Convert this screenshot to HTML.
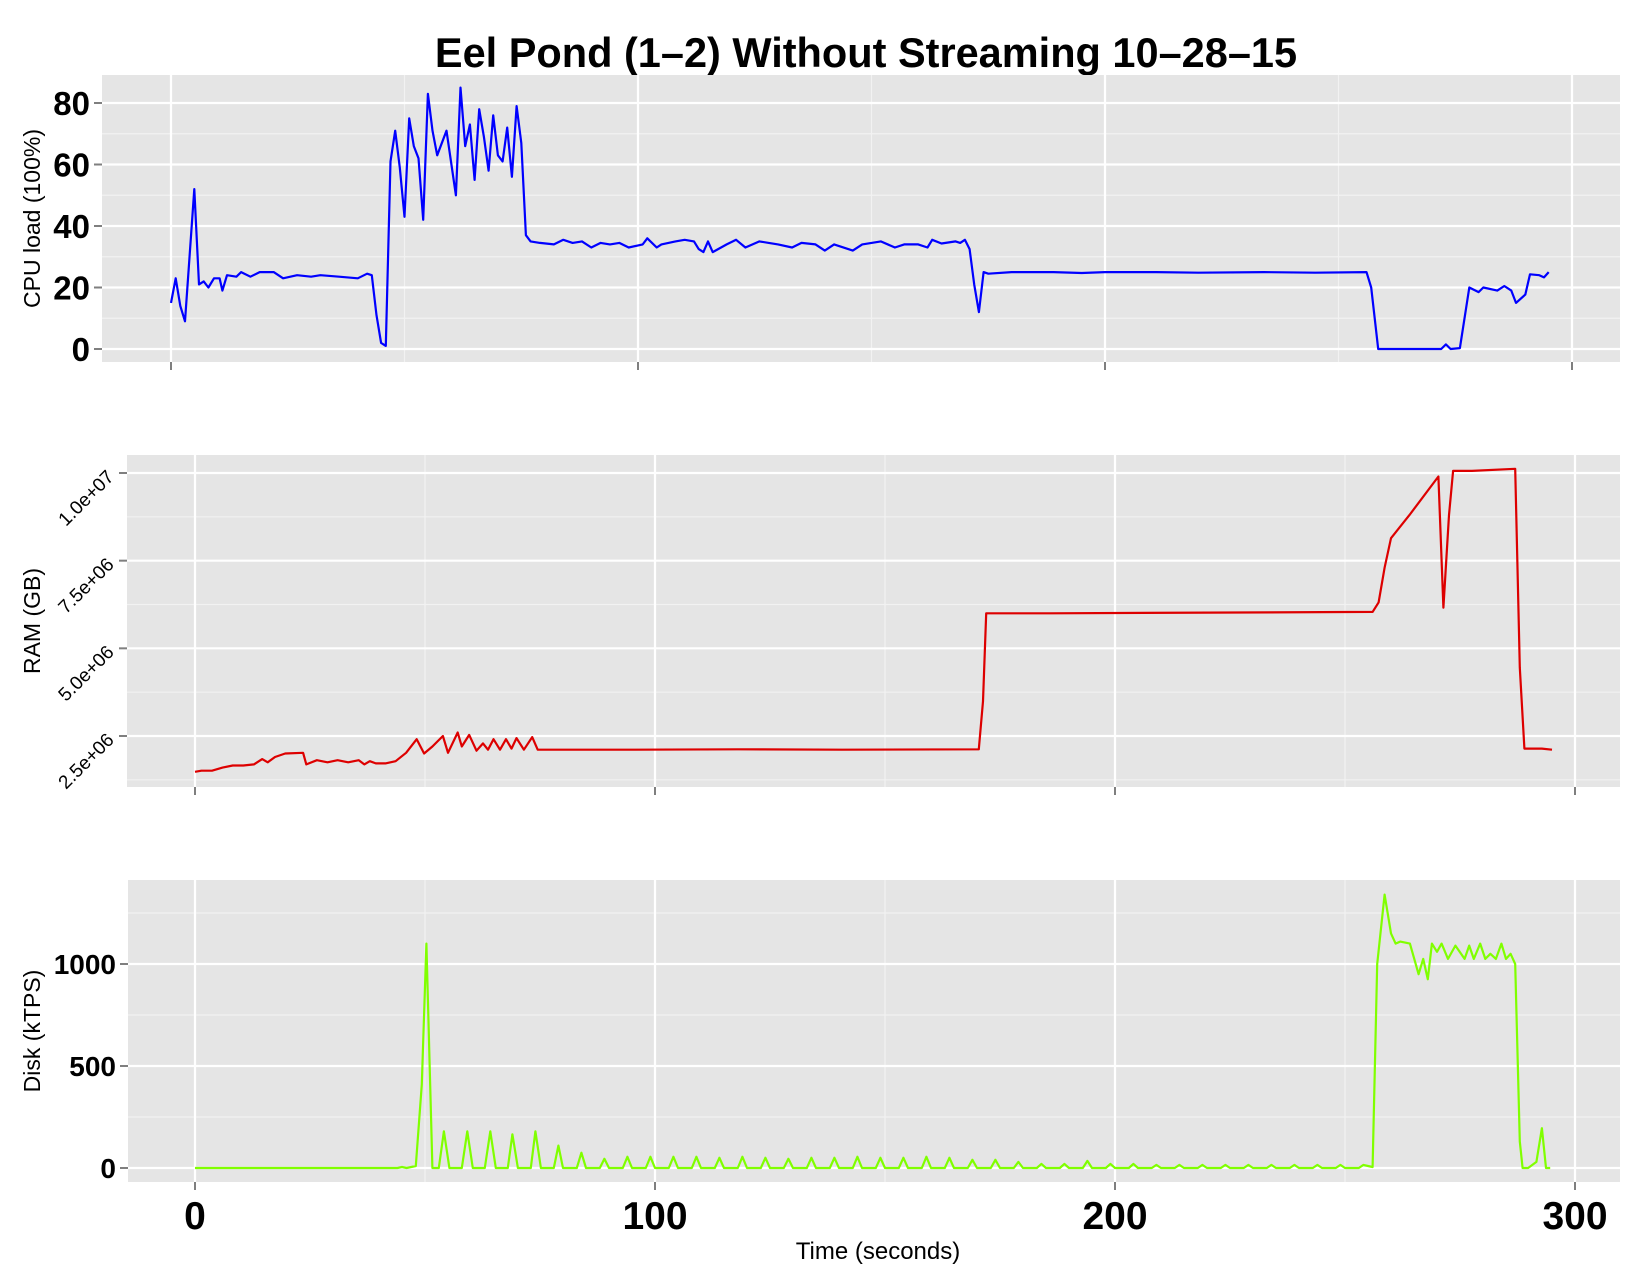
<!DOCTYPE html>
<html><head><meta charset="utf-8"><style>
html,body{margin:0;padding:0;background:#fff;width:1650px;height:1275px;overflow:hidden}
svg{display:block;font-family:"Liberation Sans",Arial,sans-serif}
</style></head><body>
<svg id="chart" width="1650" height="1275" viewBox="0 0 1650 1275" xmlns="http://www.w3.org/2000/svg">
<text x="866" y="67" text-anchor="middle" font-size="41.5" font-weight="bold">Eel Pond (1–2) Without Streaming 10–28–15</text>
<g id="layer"></g>
<text x="878" y="1259" text-anchor="middle" font-size="24">Time (seconds)</text>
</svg>
<script>
const xTicks=[0,100,200,300];
const cpuT=[0,1,2,3,5,6,7,8,9.2,10.4,11,12,14,15,17,19,22,24,27,30,32,36,40,42,43,44,45,46,47,48,49,50,51,52,53,54,55,56,57,59,61,62,63,64,65,66,67,68,69,70,71,72,73,74,75,76,77,79,82,84,86,88,90,92,94,96,98,101,102,104,105,108,110,112,113,114,115,116,119,121,123,126,128,130,133,135,138,140,142,146,148,152,155,157,160,162,163,165,168,169,170,171,172,173,174,175,180,189,195,200,211,220,234,245,256,257,258.5,272,273,274,276,278,280,281,284,285.5,287,288,290,291,293,294,295];
const cpuV=[15,23,14,9,52,21,22,20,23,23,19,24,23.5,25,23.5,25,25,23,24,23.5,24,23.5,23,24.5,24,11,2,1,61,71,59,43,75,66,62,42,83,71,63,71,50,85,66,73,55,78,69,58,76,63,61,72,56,79,67,37,35,34.5,34,35.5,34.5,35,33,34.5,34,34.5,33,34,36,33,34,35,35.5,35,32.5,31.5,35,31.5,34,35.5,33,35,34.5,34,33,34.5,34,32,34,32,34,35,33,34,34,33,35.5,34.3,35,34.5,35.5,32.5,21,12,25,24.5,25,25,24.7,25,25,24.8,25,24.8,25,20,0,0,1.5,0,0.3,20,18.5,20,19,20.5,19,15,17.7,24.3,24,23.3,25];
const cpuTicks=[0,20,40,60,80];
const ramT=[0,1.4,3.7,6,8.2,10.5,12.8,14.6,15.8,17.4,19.6,23.5,24.2,26.5,28.8,31,33.3,35.6,36.8,38,39.3,41.4,43.6,45.9,48.2,49.8,51.6,53.9,55,57.1,58,59.6,61.2,62.6,63.7,64.9,66.3,67.6,68.8,69.9,71.5,73.3,74.5,95,118,140.7,170.4,171.3,172,186,256,257.3,258.6,260,264,270.3,271.4,272.6,273.5,277.6,287,288,289,292.8,295];
const ramV=[1.48,1.51,1.51,1.6,1.66,1.66,1.69,1.84,1.75,1.9,2.0,2.02,1.69,1.81,1.75,1.81,1.75,1.81,1.69,1.78,1.72,1.72,1.78,2.02,2.41,2.0,2.2,2.5,2.02,2.6,2.2,2.53,2.08,2.29,2.11,2.41,2.11,2.41,2.14,2.44,2.11,2.47,2.11,2.11,2.12,2.11,2.12,3.49,6.0,6.0,6.04,6.31,7.3,8.14,8.8,9.9,6.16,8.8,10.06,10.06,10.12,4.45,2.14,2.14,2.11];
const ramTicks=[2.5,5.0,7.5,10.0];
const ramLabels=["2.5e+06","5.0e+06","7.5e+06","1.0e+07"];
const diskT=[0,44,45,46,48,49.3,50.3,51.6,53,54.1,55.3,58,59.2,60.4,63,64.2,65.4,68,69,70.2,73,74,75.2,78,79,80,83,84,85,88,89,90,93,94,95,98,99,100,103,104,105,108,109,110,113,114,115,118,119,120,123,124,125,128,129,130,133,134,135,138,139,140,143,144,145,148,149,150,153,154,155,158,159,160,163,164,165,168,169,170,173,174,175,178,179,180,183,184,185,188,189,190,193,194,195,198,199,200,203,204,205,208,209,210,213,214,215,218,219,220,223,224,225,228,229,230,233,234,235,238,239,240,243,244,245,248,249,250,253,254,255,256,257,258.6,260,261,262,264.1,266,267,268,268.9,270,271,272.4,274,276,277,278,279.4,280.5,281.6,282.8,284,285,286,287,288,288.6,289.8,291.6,292.8,293.7,294.6,295];
const diskV=[0,0,5,0,10,410,1100,0,0,180,0,0,180,0,0,180,0,0,165,0,0,180,0,0,110,0,0,75,0,0,45,0,0,55,0,0,55,0,0,55,0,0,55,0,0,50,0,0,55,0,0,50,0,0,45,0,0,50,0,0,50,0,0,55,0,0,50,0,0,50,0,0,55,0,0,50,0,0,40,0,0,40,0,0,30,0,0,20,0,0,20,0,0,35,0,0,20,0,0,20,0,0,15,0,0,15,0,0,15,0,0,15,0,0,15,0,0,15,0,0,15,0,0,15,0,0,15,0,0,15,10,5,1000,1340,1150,1100,1110,1100,950,1025,925,1100,1060,1100,1025,1090,1025,1090,1025,1100,1025,1050,1025,1100,1025,1050,1000,130,0,0,30,195,0,0];
const diskTicks=[0,500,1000];

const NS="http://www.w3.org/2000/svg";
const layer=document.getElementById('layer');
function mk(tag,attrs,parent){const e=document.createElementNS(NS,tag);for(const k in attrs)e.setAttribute(k,attrs[k]);(parent||layer).appendChild(e);return e;}

const panels=[
 {name:'cpu',L:102,R:1620,T:75,B:362,x0:171,x100:638,ymin:0,ymax:80,y0:349,y1:103,ticks:cpuTicks,labels:cpuTicks.map(String),T_:cpuT,V:cpuV,color:'#0000ff',title:'CPU load (100%)',titleX:40,rot:false,fs:33,xlab:false},
 {name:'ram',L:127,R:1620,T:455,B:787,x0:195,x100:655,ymin:2.5,ymax:10,y0:736,y1:473,ticks:ramTicks,labels:ramLabels,T_:ramT,V:ramV,color:'#dd0000',title:'RAM (GB)',titleX:40,rot:true,fs:19,xlab:false},
 {name:'disk',L:128,R:1620,T:880,B:1182,x0:195,x100:655,ymin:0,ymax:1000,y0:1168,y1:964,ticks:diskTicks,labels:diskTicks.map(String),T_:diskT,V:diskV,color:'#80ff00',title:'Disk (kTPS)',titleX:40,rot:false,fs:28,xlab:true}
];
panels.forEach(p=>{
 const xs=t=>p.x0+(p.x100-p.x0)*t/100;
 const ys=v=>p.y0+(p.y1-p.y0)*(v-p.ymin)/(p.ymax-p.ymin);
 const g=mk('g',{});
 
 
 const bg=mk('rect',{x:p.L,y:p.T,width:p.R-p.L,height:p.B-p.T,fill:'#e5e5e5'},g);
 
 
 const step=p.ticks[1]-p.ticks[0];
 for(let i=-1;i<p.ticks.length;i++){const v=p.ticks[0]+step*(i+0.5);const y=ys(v);if(y>p.T&&y<p.B){const l=mk('line',{x1:p.L,x2:p.R,y1:y,y2:y,stroke:'#f2f2f2','stroke-width':1.2},g);}}
 [-50,50,150,250,350].forEach(t=>{const x=xs(t);if(x>p.L&&x<p.R){const l=mk('line',{x1:x,x2:x,y1:p.T,y2:p.B,stroke:'#f2f2f2','stroke-width':1.2},g);}});
 p.ticks.forEach((v,i)=>{const y=ys(v);
  const l=mk('line',{x1:p.L,x2:p.R,y1:y,y2:y,stroke:'#fff','stroke-width':2.2},g);
  
  mk('line',{x1:p.L-8,x2:p.L,y1:y,y2:y,stroke:'#7f7f7f','stroke-width':2},g);
  let tx;
  if(p.rot){tx=mk('text',{x:p.L-12,y:y+5,'text-anchor':'end','font-size':p.fs,transform:`rotate(-45 ${p.L-12} ${y+5})`},g);}
  else{tx=mk('text',{x:p.L-12,y:y+p.fs*0.36,'text-anchor':'end','font-size':p.fs,'font-weight':'bold'},g);}
  tx.textContent=p.labels[i];
  
 });
 xTicks.forEach(t=>{const x=xs(t);
  const l=mk('line',{x1:x,x2:x,y1:p.T,y2:p.B,stroke:'#fff','stroke-width':2.2},g);
  
  mk('line',{x1:x,x2:x,y1:p.B,y2:p.B+8,stroke:'#7f7f7f','stroke-width':2},g);
  if(p.xlab){const tx=mk('text',{x:x,y:1229,'text-anchor':'middle','font-size':39,'font-weight':'bold'},g);tx.textContent=String(t);
   }
 });
 const d=p.T_.map((t,i)=>(i?'L':'M')+xs(t).toFixed(1)+','+ys(p.V[i]).toFixed(1)).join(' ');
 const path=mk('path',{d:d,fill:'none',stroke:p.color,'stroke-width':2.2,'stroke-linejoin':'round'},g);
 
 
 const cy=(p.T+p.B)/2;
 const tt=mk('text',{x:p.titleX,y:cy,'text-anchor':'middle','font-size':23,transform:`rotate(-90 ${p.titleX} ${cy})`},g);
 tt.textContent=p.title;
 
});
</script>
</body></html>
